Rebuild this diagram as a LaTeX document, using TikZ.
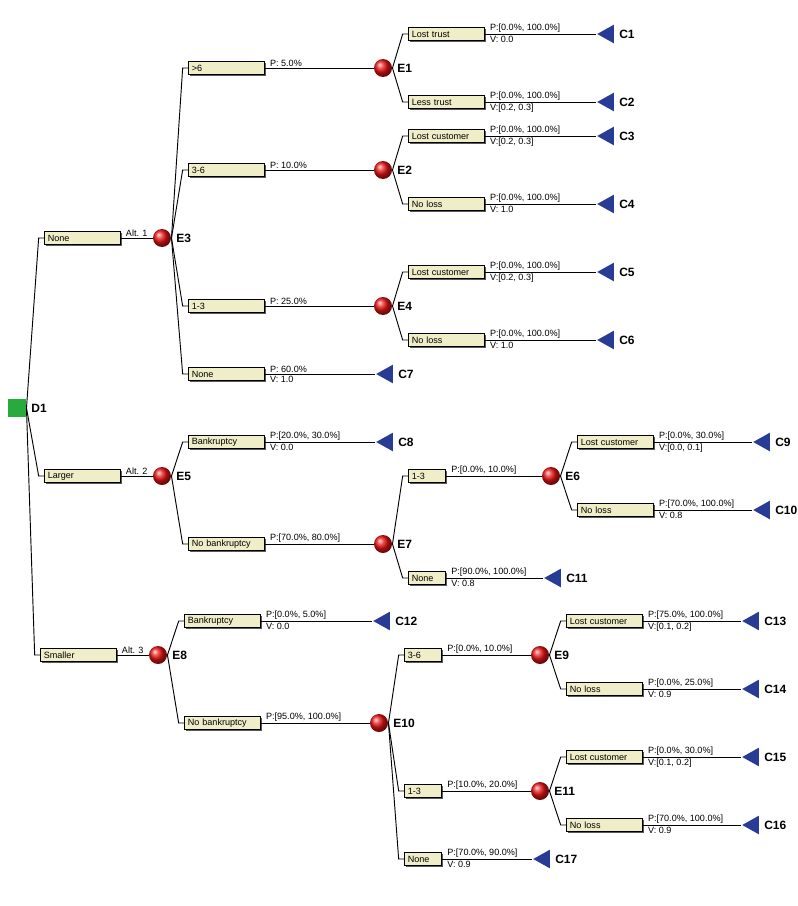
\documentclass[tikz,border=0pt]{standalone}
\usepackage{fontspec}
\setmainfont{Liberation Sans}
\usetikzlibrary{shapes.geometric,shadows}
\definecolor{boxfill}{RGB}{240,238,200}
\definecolor{chancered}{RGB}{235,20,20}
\definecolor{endblue}{RGB}{40,60,150}
\definecolor{decgreen}{RGB}{40,170,60}
\tikzstyle{optbox} = [
 rectangle,
 draw,
 fill=boxfill,
 drop shadow={shadow xshift=1pt,shadow yshift=-1pt,opacity=1,fill=black!65},
 inner xsep=2.5pt,
 inner ysep=0pt,
 minimum height=10pt,
 text width=52pt,
 align=left,
 anchor=west,
 font=\fontsize{6.8}{8}\selectfont
]
\tikzstyle{shortbox} = [optbox, text width=23pt]
\tikzstyle{decision} = [
 rectangle,
 fill=decgreen,
 minimum size=13.5pt,
 inner sep=0pt
]
\tikzstyle{chance} = [
 circle,
 ball color=chancered,
 minimum size=13.5pt,
 inner sep=0pt
]
\tikzstyle{outcome} = [
 isosceles triangle,
 isosceles triangle stretches,
 shape border rotate=180,
 fill=endblue,
 minimum width=14pt,
 minimum height=12.5pt,
 inner sep=0pt,
 anchor=apex
]
\tikzstyle{nodetag} = [font=\fontsize{9}{10}\selectfont\bfseries]
\tikzstyle{problbl} = [font=\fontsize{6.8}{8}\selectfont, inner sep=1pt]
% box on a branch: style, parent, name, x, y, text
\newcommand{\branch}[6]{%
  \node[#1] (#3) at (#4,#5) {#6};
  \draw (#2.east) -- ([xshift=-4pt]#3.west) -- (#3.west);}
% line from a box: from, to, P (and V)
\newcommand{\pline}[3]{%
  \draw (#1.east) -- (#2) node[problbl, pos=0, above right, xshift=2.5pt] {#3};}
\newcommand{\pvline}[4]{%
  \draw (#1.east) -- (#2) node[problbl, pos=0, above right, xshift=2.5pt] {#3}
    node[problbl, pos=0, below right, xshift=2.5pt] {#4};}

\begin{document}
\begin{tikzpicture}[x=0.75pt, y=-0.75pt, line width=0.7pt]
  \useasboundingbox (0,0) rectangle (798,906);
  \node [decision, label={[nodetag]right:D1}] (D1) at (17,408) {};

  % Alt. 1
  \branch{optbox}{D1}{none}{44}{238}{None}
  \node [chance, label={[nodetag]right:E3}] (E3) at (162,238) {};
  \draw (none.east) -- node[problbl, above] {Alt. 1} (E3);
  \branch{optbox}{E3}{gt6}{188}{68}{>6}
  \branch{optbox}{E3}{a36}{188}{170}{3-6}
  \branch{optbox}{E3}{a13}{188}{306}{1-3}
  \branch{optbox}{E3}{anone}{188}{374}{None}
  \node [chance, label={[nodetag]right:E1}] (E1) at (383,68) {};
  \node [chance, label={[nodetag]right:E2}] (E2) at (383,170) {};
  \node [chance, label={[nodetag]right:E4}] (E4) at (383,306) {};
  \node [outcome, label={[nodetag]0:C7}] (C7) at (375,374) {};
  \pline{gt6}{E1}{P: 5.0\%}
  \pline{a36}{E2}{P: 10.0\%}
  \pline{a13}{E4}{P: 25.0\%}
  \pvline{anone}{C7}{P: 60.0\%}{V: 1.0}

  \branch{optbox}{E1}{ltrust}{408}{34}{Lost trust}
  \branch{optbox}{E1}{lesstrust}{408}{102}{Less trust}
  \branch{optbox}{E2}{lcust2}{408}{136}{Lost customer}
  \branch{optbox}{E2}{noloss2}{408}{204}{No loss}
  \branch{optbox}{E4}{lcust4}{408}{272}{Lost customer}
  \branch{optbox}{E4}{noloss4}{408}{340}{No loss}
  \node [outcome, label={[nodetag]0:C1}] (C1) at (596,34) {};
  \node [outcome, label={[nodetag]0:C2}] (C2) at (596,102) {};
  \node [outcome, label={[nodetag]0:C3}] (C3) at (596,136) {};
  \node [outcome, label={[nodetag]0:C4}] (C4) at (596,204) {};
  \node [outcome, label={[nodetag]0:C5}] (C5) at (596,272) {};
  \node [outcome, label={[nodetag]0:C6}] (C6) at (596,340) {};
  \pvline{ltrust}{C1}{P:[0.0\%, 100.0\%]}{V: 0.0}
  \pvline{lesstrust}{C2}{P:[0.0\%, 100.0\%]}{V:[0.2, 0.3]}
  \pvline{lcust2}{C3}{P:[0.0\%, 100.0\%]}{V:[0.2, 0.3]}
  \pvline{noloss2}{C4}{P:[0.0\%, 100.0\%]}{V: 1.0}
  \pvline{lcust4}{C5}{P:[0.0\%, 100.0\%]}{V:[0.2, 0.3]}
  \pvline{noloss4}{C6}{P:[0.0\%, 100.0\%]}{V: 1.0}

  % Alt. 2
  \branch{optbox}{D1}{larger}{44}{476}{Larger}
  \node [chance, label={[nodetag]right:E5}] (E5) at (162,476) {};
  \draw (larger.east) -- node[problbl, above] {Alt. 2} (E5);
  \branch{optbox}{E5}{bank5}{188}{442}{Bankruptcy}
  \branch{optbox}{E5}{nobank5}{188}{544}{No bankruptcy}
  \node [outcome, label={[nodetag]0:C8}] (C8) at (375,442) {};
  \node [chance, label={[nodetag]right:E7}] (E7) at (383,544) {};
  \pvline{bank5}{C8}{P:[20.0\%, 30.0\%]}{V: 0.0}
  \pline{nobank5}{E7}{P:[70.0\%, 80.0\%]}
  \branch{shortbox}{E7}{b13}{408}{476}{1-3}
  \branch{shortbox}{E7}{bnone}{408}{578}{None}
  \node [chance, label={[nodetag]right:E6}] (E6) at (551,476) {};
  \node [outcome, label={[nodetag]0:C11}] (C11) at (543,578) {};
  \pline{b13}{E6}{P:[0.0\%, 10.0\%]}
  \pvline{bnone}{C11}{P:[90.0\%, 100.0\%]}{V: 0.8}
  \branch{optbox}{E6}{lcust6}{577}{442}{Lost customer}
  \branch{optbox}{E6}{noloss6}{577}{510}{No loss}
  \node [outcome, label={[nodetag]0:C9}] (C9) at (752,442) {};
  \node [outcome, label={[nodetag]0:C10}] (C10) at (752,510) {};
  \pvline{lcust6}{C9}{P:[0.0\%, 30.0\%]}{V:[0.0, 0.1]}
  \pvline{noloss6}{C10}{P:[70.0\%, 100.0\%]}{V: 0.8}

  % Alt. 3
  \branch{optbox}{D1}{smaller}{40}{655}{Smaller}
  \node [chance, label={[nodetag]right:E8}] (E8) at (158,655) {};
  \draw (smaller.east) -- node[problbl, above] {Alt. 3} (E8);
  \branch{optbox}{E8}{bank8}{184}{621}{Bankruptcy}
  \branch{optbox}{E8}{nobank8}{184}{723}{No bankruptcy}
  \node [outcome, label={[nodetag]0:C12}] (C12) at (372,621) {};
  \node [chance, label={[nodetag]right:E10}] (E10) at (379,723) {};
  \pvline{bank8}{C12}{P:[0.0\%, 5.0\%]}{V: 0.0}
  \pline{nobank8}{E10}{P:[95.0\%, 100.0\%]}
  \branch{shortbox}{E10}{c36}{404}{655}{3-6}
  \branch{shortbox}{E10}{c13}{404}{791}{1-3}
  \branch{shortbox}{E10}{cnone}{404}{859}{None}
  \node [chance, label={[nodetag]right:E9}] (E9) at (540,655) {};
  \node [chance, label={[nodetag]right:E11}] (E11) at (540,791) {};
  \node [outcome, label={[nodetag]0:C17}] (C17) at (532,859) {};
  \pline{c36}{E9}{P:[0.0\%, 10.0\%]}
  \pline{c13}{E11}{P:[10.0\%, 20.0\%]}
  \pvline{cnone}{C17}{P:[70.0\%, 90.0\%]}{V: 0.9}
  \branch{optbox}{E9}{lcust9}{566}{621}{Lost customer}
  \branch{optbox}{E9}{noloss9}{566}{689}{No loss}
  \branch{optbox}{E11}{lcust11}{566}{757}{Lost customer}
  \branch{optbox}{E11}{noloss11}{566}{825}{No loss}
  \node [outcome, label={[nodetag]0:C13}] (C13) at (741,621) {};
  \node [outcome, label={[nodetag]0:C14}] (C14) at (741,689) {};
  \node [outcome, label={[nodetag]0:C15}] (C15) at (741,757) {};
  \node [outcome, label={[nodetag]0:C16}] (C16) at (741,825) {};
  \pvline{lcust9}{C13}{P:[75.0\%, 100.0\%]}{V:[0.1, 0.2]}
  \pvline{noloss9}{C14}{P:[0.0\%, 25.0\%]}{V: 0.9}
  \pvline{lcust11}{C15}{P:[0.0\%, 30.0\%]}{V:[0.1, 0.2]}
  \pvline{noloss11}{C16}{P:[70.0\%, 100.0\%]}{V: 0.9}
\end{tikzpicture}
\end{document}
